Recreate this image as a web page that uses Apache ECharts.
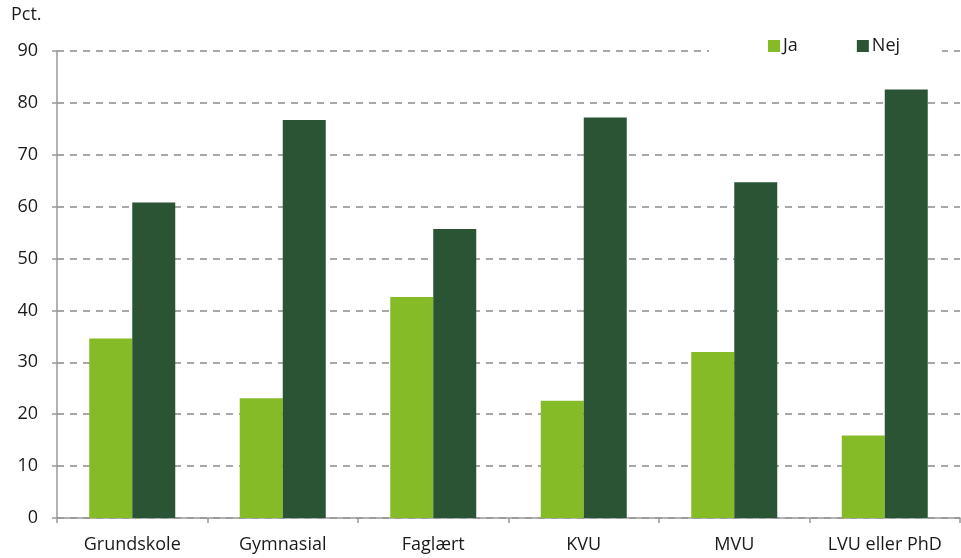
<!DOCTYPE html>
<html>
<head>
<meta charset="utf-8">
<script src="https://cdn.jsdelivr.net/npm/echarts@6/dist/echarts.min.js"></script>
<style>html,body{margin:0;padding:0;background:#fff}#c{width:961px;height:558px}</style>
</head>
<body>
<div id="c"></div>
<script>
const categories = ['Grundskole', 'Gymnasial', 'Faglært', 'KVU', 'MVU', 'LVU eller PhD'];
const jaValues = [34.6, 23.1, 42.6, 22.6, 32.0, 15.9];
const nejValues = [60.8, 76.7, 55.7, 77.2, 64.7, 82.6];
const yTicks = [0, 10, 20, 30, 40, 50, 60, 70, 80, 90];
const seriesNames = ['Ja', 'Nej'];
const unitLabel = 'Pct.';

const font = '"Open Sans", "Noto Sans", sans-serif';
const chart = echarts.init(document.getElementById('c'), null, {renderer: 'canvas'});
chart.setOption({
  animation: false,
  textStyle: {fontFamily: font},
  title: {text: unitLabel, left: 11, top: 6, padding: 0, textStyle: {fontFamily: font, fontSize: 18, fontWeight: 'normal', color: '#1a1a1a'}},
  legend: {
    data: seriesNames, left: 709, top: 33, padding: [4, 42, 6, 59], itemWidth: 12, itemHeight: 12, itemGap: 59,
    backgroundColor: '#ffffff',
    icon: 'rect', textStyle: {fontFamily: font, fontSize: 18, color: '#1a1a1a', padding: [0,0,0,-2]}
  },
  grid: {left: 57, right: 1, top: 51, bottom: 40, containLabel: false},
  xAxis: {
    type: 'category', data: categories,
    axisLine: {lineStyle: {color: '#999', width: 1.5}},
    axisTick: {show: true, length: 5, alignWithLabel: false, lineStyle: {color: '#999', width: 1.5}},
    axisLabel: {fontFamily: font, fontSize: 18, color: '#1a1a1a', margin: 18}
  },
  yAxis: {
    type: 'value', min: yTicks[0], max: yTicks[yTicks.length - 1], interval: 10,
    axisLine: {show: true, lineStyle: {color: '#999', width: 1.5}},
    axisTick: {show: true, length: 5, lineStyle: {color: '#999', width: 1.5}},
    axisLabel: {fontFamily: font, fontSize: 18, color: '#1a1a1a', margin: 19},
    splitLine: {show: true, lineStyle: {color: '#8c8c8c', type: [7, 6], width: 1.5}}
  },
  series: [
    {name: seriesNames[0], type: 'bar', data: jaValues, barWidth: 43, barGap: '0%', itemStyle: {color: '#86bb28'}},
    {name: seriesNames[1], type: 'bar', data: nejValues, barWidth: 43, barGap: '0%', itemStyle: {color: '#2b5434'}}
  ]
});
</script>
</body>
</html>
